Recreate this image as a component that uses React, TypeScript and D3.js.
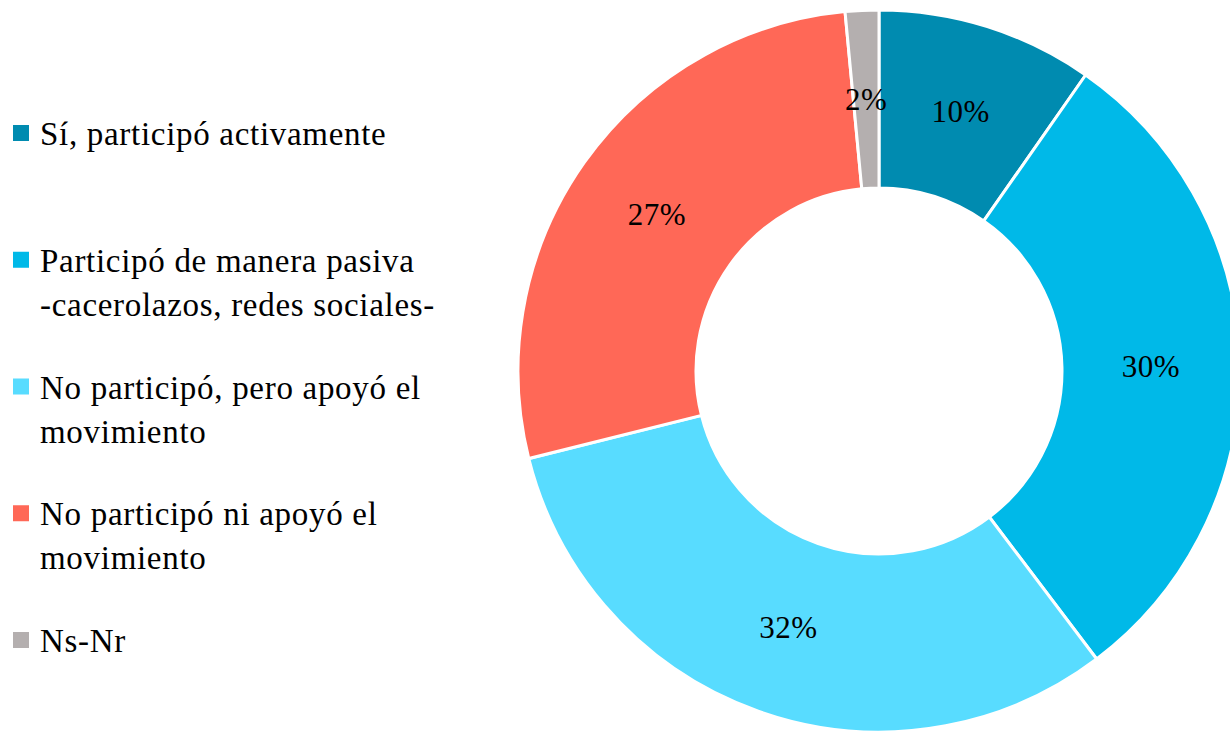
import React from "react";
import * as d3 from "d3";

const width = 1230;
const height = 732;

// legend / slice categories, in drawing order (clockwise from top)
const categories = [
  ["Sí, participó activamente"],
  ["Participó de manera pasiva", "-cacerolazos, redes sociales-"],
  ["No participó, pero apoyó el", "movimiento"],
  ["No participó ni apoyó el", "movimiento"],
  ["Ns-Nr"],
];
const values = [9.7, 30.0, 31.4, 27.4, 1.5];
const labels = ["10%", "30%", "32%", "27%", "2%"];
const colors = ["#008BB0", "#00B9E8", "#58DCFF", "#FF6857", "#B4AFAF"];

const cx = 879;
const cy = 371;
const outer = 361;
const inner = 183;
const font = "'Liberation Serif', 'DejaVu Serif', serif";

export default function App() {
  const pie = d3.pie<number>().sort(null).value(d => d);
  const arcs = pie(values);
  const arc = d3.arc<d3.PieArcDatum<number>>().innerRadius(inner).outerRadius(outer);
  const labelArc = d3
    .arc<d3.PieArcDatum<number>>()
    .innerRadius((inner + outer) / 2)
    .outerRadius((inner + outer) / 2);

  // legend rows: first baseline of each item
  const legendY = d3.scalePoint<number>().domain(d3.range(categories.length)).range([145, 652]);

  return (
    <svg width={width} height={height} style={{ position: "absolute", left: 0, top: 0 }}>
      <rect width={width} height={height} fill="#fff" />
      <g transform={`translate(${cx},${cy})`}>
        {arcs.map((a, i) => (
          <path key={i} d={arc(a) || ""} fill={colors[i]} stroke="#fff" strokeWidth={3} />
        ))}
        {arcs.map((a, i) => {
          const [x, y] = labelArc.centroid(a);
          return (
            <text
              key={i}
              x={x}
              y={y}
              dy="0.35em"
              textAnchor="middle"
              fontFamily={font}
              fontSize={31}
              letterSpacing={0.5}
              fill="#000"
            >
              {labels[i]}
            </text>
          );
        })}
      </g>
      {categories.map((lines, i) => {
        const y0 = legendY(i) || 0;
        return (
          <g key={i}>
            <rect x={13} y={y0 - 20} width={16} height={16} fill={colors[i]} />
            {lines.map((t, j) => (
              <text
                key={j}
                x={40}
                y={y0 + j * 44}
                fontFamily={font}
                fontSize={33}
                letterSpacing={0.7}
                fill="#000"
              >
                {t}
              </text>
            ))}
          </g>
        );
      })}
    </svg>
  );
}
